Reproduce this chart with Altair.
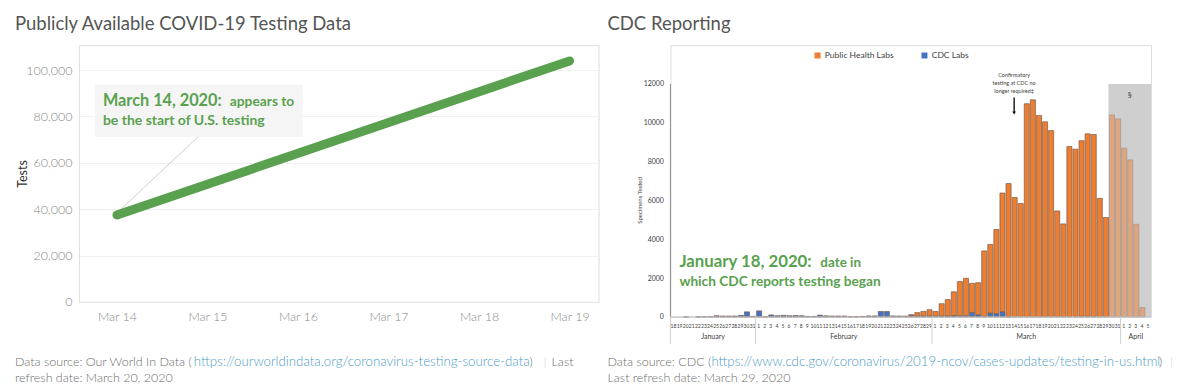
import altair as alt
import pandas as pd

# ---------------- data ----------------
owid_dates = ["2020-03-14", "2020-03-19"]
owid_tests = [37500, 104000]

cdc_first_day = "2020-01-18"
cdc_days = 79
# Jan 18..31 (14), Feb 1..29 (29), Mar 1..31 (31), Apr 1..5 (5)
cdc_labs = [
    0, 0, 4, 0, 4, 8, 15, 60, 45, 45, 45, 80, 260, 30,
    310, 10, 100, 60, 80, 60, 70, 60, 25, 25, 90, 55, 45, 45, 45, 15, 15, 25, 50, 50,
    280, 280, 50, 45, 40, 80, 50, 50, 50,
    40, 50, 50, 70, 60, 60, 230, 110, 20, 200, 170, 270, 10, 0, 0, 0, 0, 0, 0, 0, 0, 0,
    0, 0, 30, 30, 20, 0, 0, 0, 0,
    0, 0, 0, 0, 0,
]
public_health_labs = [
    0, 0, 0, 0, 0, 0, 0, 0, 0, 0, 0, 0, 0, 0,
    0, 0, 0, 0, 0, 0, 0, 0, 0, 0, 0, 0, 0, 0, 0, 0, 0, 0, 0, 0, 0, 0, 0, 0, 0, 30, 170, 230, 320,
    240, 630, 840, 1220, 1760, 1930, 1500, 1650, 3380, 3530, 4330, 6110, 6860, 6150, 5840,
    10980, 11180, 10380, 10050, 9600, 5460, 4790, 8780, 8640, 9050, 9400, 9380, 6110, 5120,
    10400, 10200,
    8690, 8090, 4770, 480, 0,
]
series_names = ["Public Health Labs", "CDC Labs"]
series_colors = ["#ed7d31", "#4472c4"]
shaded_from = "2020-03-30"
shaded_to = "2020-04-06"
shade_top = 12000
y_ticks_right = [0, 2000, 4000, 6000, 8000, 10000, 12000]

months = ["January", "February", "March", "April"]
month_starts = ["2020-01-18", "2020-02-01", "2020-03-01", "2020-04-01"]
month_ends = ["2020-02-01", "2020-03-01", "2020-04-01", "2020-04-06"]

arrow_day = "2020-03-14"
arrow_from, arrow_to = 11300, 10500
section_day = "2020-04-02T12:00:00Z"
section_value = 11400

GREEN = "#59a14f"
GREY_TXT = "#6e6e6e"
LINK = "#4d9cc5"
FONT = "Lato"
FS = 12.5   # footer plain text
FL = 13.3   # footer link text


def dt(y, m, d, h=0, mi=0):
    return alt.DateTime(year=y, month=m, date=d, hours=h, minutes=mi, utc=True)


def txt(chart_df, text, x, y, size, color, weight="normal", align="left", baseline="middle", font=FONT, **kw):
    return alt.Chart(chart_df).mark_text(
        text=text, align=align, baseline=baseline, fontSize=size, color=color,
        fontWeight=weight, font=font, **kw
    ).encode(x=alt.value(x), y=alt.value(y))


one = pd.DataFrame({"a": [0]})

# ---------------- left panel ----------------
LW, LH = 520, 257
left_df = pd.DataFrame({"date": owid_dates, "tests": owid_tests})

x_left = alt.X(
    "date:T",
    scale=alt.Scale(type="utc", domain=[dt(2020, 3, 13, 13, 55), dt(2020, 3, 19, 7, 40)]),
    axis=alt.Axis(
        title=None, tickCount={"interval": "day", "step": 1},
        labelExpr="utcFormat(datum.value, '%b %d')", grid=False, ticks=False,
        labelPadding=9, labelFontSize=12.5, labelColor="#8a8a8a", labelFont=FONT,
        labelFontWeight=300, domainColor="#e3e3e3",
    ),
)
y_left = alt.Y(
    "tests:Q",
    scale=alt.Scale(domain=[0, 110800], nice=False),
    axis=alt.Axis(
        title="Tests", values=[0, 20000, 40000, 60000, 80000, 100000], format=",d",
        ticks=False, labelPadding=7, labelFontSize=12.5, labelColor="#8a8a8a",
        labelFont=FONT, labelFontWeight=300, gridColor="#f0f0f0", domainColor="#e3e3e3",
        titleFont=FONT, titleFontSize=12.5, titleFontWeight="normal", titleColor="#333333",
        titleX=-49,
    ),
)

left_line = alt.Chart(left_df).mark_line(
    color=GREEN, strokeWidth=9, strokeCap="round"
).encode(x=x_left, y=y_left)

left_box = alt.Chart(one).mark_rect(fill="#f4f4f4", opacity=0.9).encode(
    x=alt.value(16), x2=alt.value(224), y=alt.value(40), y2=alt.value(92)
)
left_conn = alt.Chart(one).mark_rule(color="#cfcfcf", strokeWidth=1).encode(
    x=alt.value(119), x2=alt.value(39), y=alt.value(92), y2=alt.value(167)
)

left_texts = [
    txt(one, "Publicly Available COVID-19 Testing Data", -64, -21, 18.5, "#555555"),
    txt(one, "March 14, 2020:", 24, 56, 16.3, GREEN, "bold"),
    txt(one, "appears to", 151, 57, 13.8, GREEN, "bold"),
    txt(one, "be the start of U.S. testing", 24, 76, 14, GREEN, "bold"),
    txt(one, "Data source: Our World In Data (", -64, 317, FS, GREY_TXT, 300),
    txt(one, "https://ourworldindata.org/coronavirus-testing-source-data", 115, 317, FL, LINK, 300),
    txt(one, ")", 451, 317, FS, GREY_TXT, 300),
    txt(one, "|", 465, 317, FS, "#cccccc", 300),
    txt(one, "Last", 473, 317, FS, GREY_TXT, 300),
    txt(one, "refresh date: March 20, 2020", -64, 333, FS, GREY_TXT, 300),
]

left = alt.layer(left_box, left_conn, left_line, *left_texts).properties(width=LW, height=LH)

# ---------------- right panel ----------------
RW, RH = 481, 272
dates = pd.date_range(cdc_first_day, periods=cdc_days, freq="D").strftime("%Y-%m-%d").tolist()
rows = []
for i, d in enumerate(dates):
    sh = d >= shaded_from
    rows.append({"date": d, "series": series_names[1], "value": cdc_labs[i], "ord": 0, "shaded": sh})
    rows.append({"date": d, "series": series_names[0], "value": public_health_labs[i], "ord": 1, "shaded": sh})
bar_df = pd.DataFrame(rows)

x_dom = alt.Scale(type="utc", domain=[dt(2020, 1, 18), dt(2020, 4, 6)])
y_dom = alt.Scale(domain=[0, 14000], nice=False)
y_axis = alt.Axis(
    values=y_ticks_right, format="d", grid=False, ticks=False, domain=False,
    labelPadding=7, labelFontSize=7, labelColor="#404040", labelFont=FONT,
    title="Specimens Tested", titleFontSize=6, titleFontWeight="normal", titleColor="#404040",
    titleFont=FONT, titleX=-28, titleY=155,
)


def Yr(field, **kw):
    return alt.Y(field, scale=y_dom, axis=y_axis, **kw)


shade = alt.Chart(pd.DataFrame({"s": [shaded_from], "e": [shaded_to], "lo": [0], "top": [shade_top]})).mark_rect(
    color="#cfcfcf"
).encode(
    x=alt.X("s:T", scale=x_dom, axis=None), x2="e:T",
    y=Yr("top:Q"), y2="lo:Q",
)

bars = alt.Chart(bar_df).transform_filter("datum.value > 0").mark_bar(
    stroke="#7a5e4e", strokeWidth=0.7, binSpacing=1
).encode(
    x=alt.X("utcyearmonthdate(date):T", scale=x_dom, axis=None),
    y=Yr("value:Q", stack="zero"),
    color=alt.Color(
        "series:N", scale=alt.Scale(domain=series_names, range=series_colors),
        legend=alt.Legend(
            title=None, orient="none", legendX=143, legendY=6, direction="horizontal",
            symbolType="square", symbolSize=36, symbolStrokeWidth=0, labelFontSize=8.5,
            labelColor="#404040", labelFont=FONT, columnPadding=26, labelOffset=3,
        ),
    ),
    order=alt.Order("ord:Q"),
    opacity=alt.condition("datum.shaded", alt.value(0.5), alt.value(1)),
)

axis_df = pd.DataFrame({"lo": [0], "hi": [max(y_ticks_right)]})
y_axis_line = alt.Chart(axis_df).mark_rule(color="#8c8c8c", strokeWidth=1).encode(
    x=alt.value(0), y=Yr("lo:Q"), y2="hi:Q"
)
baseline = alt.Chart(axis_df).mark_rule(color="#bfbfbf", strokeWidth=1).encode(
    x=alt.value(0), x2=alt.value(RW), y=Yr("lo:Q")
)

day_df = pd.DataFrame({"date": dates, "day": [str(int(d[-2:])) for d in dates]})
day_labels = alt.Chart(day_df).mark_text(fontSize=5, color="#404040", font=FONT, baseline="middle").encode(
    x=alt.X("utcyearmonthdate(date):T", bandPosition=0.5, scale=x_dom, axis=None),
    y=alt.value(RH + 9), text="day:N",
)

ms = pd.to_datetime(month_starts)
me = pd.to_datetime(month_ends)
mid = (ms + (me - ms) / 2).strftime("%Y-%m-%dT%H:%M:%SZ").tolist()
month_df = pd.DataFrame({"month": months, "s": month_starts, "mid": mid})
month_labels = alt.Chart(month_df).mark_text(fontSize=7, color="#404040", font=FONT, baseline="middle").encode(
    x=alt.X("mid:T", scale=x_dom, axis=None), y=alt.value(RH + 20), text="month:N"
)
month_seps = alt.Chart(month_df).mark_rule(color="#d0d0d0", strokeWidth=1).encode(
    x=alt.X("s:T", scale=x_dom, axis=None), y=alt.value(RH), y2=alt.value(RH + 27)
)

arrow_df = pd.DataFrame({"date": [arrow_day], "v0": [arrow_from], "v1": [arrow_to],
                         "note": ["Confirmatory\ntesting at CDC no\nlonger required‡"]})
arrow_x = alt.X("utcyearmonthdate(date):T", bandPosition=0.5, scale=x_dom, axis=None)
arrow_line = alt.Chart(arrow_df).mark_rule(color="#000000", strokeWidth=1.3).encode(
    x=arrow_x, y=Yr("v0:Q"), y2="v1:Q"
)
arrow_head = alt.Chart(arrow_df).mark_point(shape="triangle-down", filled=True, size=12, color="#000000", opacity=1).encode(
    x=arrow_x, y=Yr("v1:Q")
)
arrow_note = alt.Chart(arrow_df).mark_text(
    fontSize=5.5, color="#404040", font=FONT, lineBreak="\n", lineHeight=8, baseline="middle"
).encode(x=arrow_x, y=alt.value(30), text="note:N")

section = alt.Chart(pd.DataFrame({"d": [section_day], "v": [section_value], "t": ["§"]})).mark_text(
    fontSize=8, color="#404040", font=FONT
).encode(x=alt.X("d:T", scale=x_dom, axis=None), y=Yr("v:Q"), text="t:N")

right_texts = [
    txt(one, "CDC Reporting", -63, -21, 18.5, "#555555"),
    txt(one, "January 18, 2020:", 9, 217, 16.8, GREEN, "bold"),
    txt(one, "date in", 150, 218, 13.5, GREEN, "bold"),
    txt(one, "which CDC reports testing began", 9, 237, 13.7, GREEN, "bold"),
    txt(one, "Data source: CDC (", -63, 317, FS, GREY_TXT, 300),
    txt(one, "https://www.cdc.gov/coronavirus/2019-ncov/cases-updates/testing-in-us.html", 41, 317, FL, LINK, 300),
    txt(one, ")", 489, 317, FS, GREY_TXT, 300),
    txt(one, "|", 500, 317, FS, "#cccccc", 300),
    txt(one, "Last refresh date: March 29, 2020", -63, 333, FS, GREY_TXT, 300),
]

right = alt.layer(
    shade, bars, y_axis_line, baseline, day_labels, month_seps, month_labels,
    arrow_line, arrow_head, arrow_note, section, *right_texts
).properties(width=RW, height=RH)

chart = alt.hconcat(left, right, spacing=7).resolve_legend(color="independent").properties(
    padding={"left": 6, "top": 6, "right": 0, "bottom": 0}
).configure_view(stroke=None).configure(font=FONT)

chart.save("out.html", embed_options={"renderer": "svg", "actions": False})
